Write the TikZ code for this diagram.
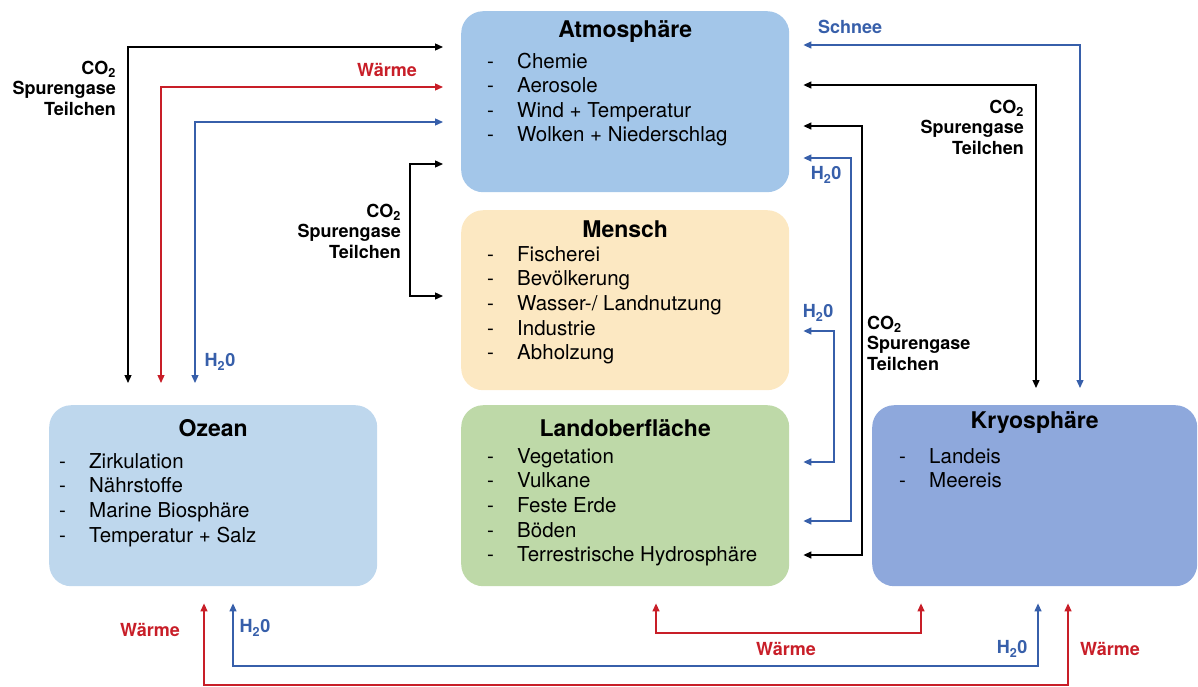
\documentclass[tikz,border=0pt]{standalone}
\usepackage{fontspec}
\setmainfont{TeX Gyre Heros}
\usetikzlibrary{arrows.meta,calc}
\definecolor{atmfill}{RGB}{163,198,233}
\definecolor{menschfill}{RGB}{252,232,194}
\definecolor{landfill}{RGB}{190,217,168}
\definecolor{ozeanfill}{RGB}{190,215,237}
\definecolor{kryofill}{RGB}{142,168,220}
\definecolor{flowred}{RGB}{200,30,40}
\definecolor{flowblue}{RGB}{55,95,170}
\tikzset{
  biarr/.style={{Triangle[length=8pt,width=7pt]}-{Triangle[length=8pt,width=7pt]},line width=1.3pt},
  sphere/.style={rounded corners=22pt,anchor=north west,inner sep=0pt},
  title/.style={font=\fontsize{23}{27}\selectfont\bfseries,inner sep=0pt},
  item/.style={anchor=base west,inner sep=0pt,font=\fontsize{20.5}{24}\selectfont},
  flowlbl/.style={font=\fontsize{18}{20.5}\selectfont\bfseries,inner sep=0pt}
}
\newcommand{\itm}[1]{\makebox[30pt][l]{-}#1}

\begin{document}
\begin{tikzpicture}[x=1pt,y=-1pt]
\useasboundingbox (0,0) rectangle (1198,686);

% Sphaeren
\node[sphere, fill=atmfill,    minimum width=328pt, minimum height=181pt] (atm)    at (461,11)  {};
\node[sphere, fill=menschfill, minimum width=328pt, minimum height=180pt] (mensch) at (461,210) {};
\node[sphere, fill=landfill,   minimum width=328pt, minimum height=181pt] (land)   at (461,405) {};
\node[sphere, fill=ozeanfill,  minimum width=328pt, minimum height=181pt] (ozn)    at (49,405)  {};
\node[sphere, fill=kryofill,   minimum width=325pt, minimum height=181pt] (kryo)   at (872,405) {};

\node[title] (atmT)    at ([yshift=-21pt]atm.north)    {Atmosphäre};
\node[title] (menschT) at ([yshift=-19pt]mensch.north) {Mensch};
\node[title] (landT)   at ([yshift=-23pt]land.north)   {Landoberfläche};
\node[title] (oznT)    at ([yshift=-23pt]ozn.north)    {Ozean};
\node[title] (kryoT)   at ([yshift=-18pt]kryo.north)   {Kryosphäre};

\foreach \t [count=\i from 0] in {Chemie,Aerosole,Wind + Temperatur,Wolken + Niederschlag}
  \node[item] (atm\i) at ([xshift=26pt,yshift={-(57+\i*24.5)*1pt}]atm.north west) {\itm{\t}};
\foreach \t [count=\i from 0] in {Fischerei,Bevölkerung,Wasser-/ Landnutzung,Industrie,Abholzung}
  \node[item] (mensch\i) at ([xshift=26pt,yshift={-(51+\i*24.7)*1pt}]mensch.north west) {\itm{\t}};
\foreach \t [count=\i from 0] in {Vegetation,Vulkane,Feste Erde,Böden,Terrestrische Hydrosphäre}
  \node[item] (land\i) at ([xshift=26pt,yshift={-(58+\i*24.7)*1pt}]land.north west) {\itm{\t}};
\foreach \t [count=\i from 0] in {Zirkulation,Nährstoffe,Marine Biosphäre,Temperatur + Salz}
  \node[item] (ozn\i) at ([xshift=10pt,yshift={-(63+\i*24.7)*1pt}]ozn.north west) {\itm{\t}};
\foreach \t [count=\i from 0] in {Landeis,Meereis}
  \node[item] (kryo\i) at ([xshift=27pt,yshift={-(58+\i*24.7)*1pt}]kryo.north west) {\itm{\t}};

% Austausch links oben
\draw[biarr, shorten <=22pt, shorten >=18pt] (128,0 |- ozn.north) |- (atm.west |- 0,47);
\draw[biarr, shorten <=22pt, shorten >=18pt, flowred] (161,0 |- ozn.north) |- (atm.west |- 0,87);
\draw[biarr, shorten <=22pt, shorten >=18pt, flowblue] (195,0 |- ozn.north) |- (atm.west |- 0,122);
\draw[biarr, shorten <=18pt, shorten >=18pt] (atm.west |- 0,164) -| (410,230) |- (mensch.west |- 0,296);

% Austausch rechts
\draw[biarr, shorten <=14pt, shorten >=17pt, flowblue] (atm.east |- 0,45) -| (1080,0 |- kryo.north);
\draw[biarr, shorten <=14pt, shorten >=17pt] (atm.east |- 0,85) -| (1036,0 |- kryo.north);
\draw[biarr, shorten <=14pt, shorten >=14pt] (atm.east |- 0,126) -| (862,340) |- (land.east |- 0,555);
\draw[biarr, shorten <=14pt, shorten >=14pt, flowblue] (atm.east |- 0,158) -| (851,340) |- (land.east |- 0,521);
\draw[biarr, shorten <=14pt, shorten >=14pt, flowblue] (mensch.east |- 0,331) -| (834,400) |- (land.east |- 0,462);

% Austausch unten
\draw[biarr, shorten <=17pt, shorten >=17pt, flowred] (204,0 |- ozn.south) -- (204,685) -| (1068,0 |- kryo.south);
\draw[biarr, shorten <=17pt, shorten >=17pt, flowblue] (233,0 |- ozn.south) -- (233,666) -| (1038,0 |- kryo.south);
\draw[biarr, shorten <=17pt, shorten >=17pt, flowred] (656,0 |- land.south) -- (656,633) -| (921,0 |- kryo.south);

% Beschriftungen
\node[flowlbl, anchor=east, align=right] (co2a) at (116,88) {CO\textsubscript{2}\\Spurengase\\Teilchen};
\node[flowlbl, flowred] (waermeA) at (387,70) {Wärme};
\node[flowlbl, flowblue] (hzoA) at (220,362) {H\textsubscript{2}0};
\node[flowlbl, anchor=east, align=right] (co2b) at (401,231) {CO\textsubscript{2}\\Spurengase\\Teilchen};
\node[flowlbl, flowblue] (schnee) at (850,27) {Schnee};
\node[flowlbl, anchor=east, align=right] (co2c) at (1024,127) {CO\textsubscript{2}\\Spurengase\\Teilchen};
\node[flowlbl, anchor=west, align=left] (co2d) at (867,343) {CO\textsubscript{2}\\Spurengase\\Teilchen};
\node[flowlbl, flowblue] (hzoB) at (826,175) {H\textsubscript{2}0};
\node[flowlbl, flowblue] (hzoC) at (818,313) {H\textsubscript{2}0};
\node[flowlbl, flowred] (waermeB) at (150,630) {Wärme};
\node[flowlbl, flowblue] (hzoD) at (255,628) {H\textsubscript{2}0};
\node[flowlbl, flowred] (waermeC) at (786,649) {Wärme};
\node[flowlbl, flowblue] (hzoE) at (1012,649) {H\textsubscript{2}0};
\node[flowlbl, flowred] (waermeD) at (1110,649) {Wärme};
\end{tikzpicture}
\end{document}
